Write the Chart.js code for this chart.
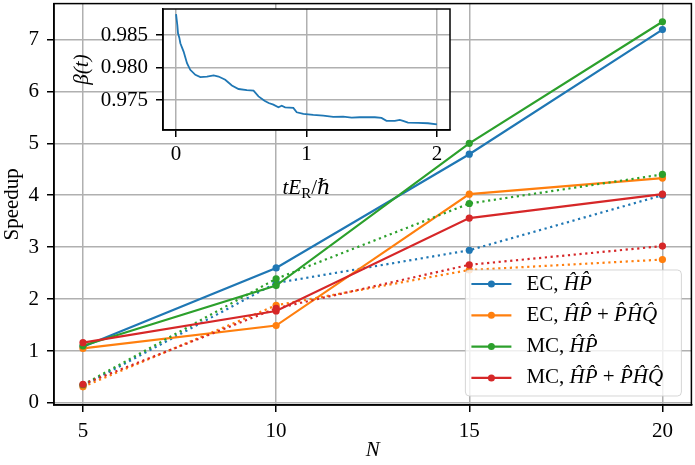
<!DOCTYPE html>
<html>
<head>
<meta charset="utf-8">
<script src="https://cdn.jsdelivr.net/npm/chart.js@4.4.1/dist/chart.umd.min.js"></script>
<style>
  body { margin: 0; background: #fff; }
  #wrap { position: relative; width: 695px; height: 465px; }
  #main { position: absolute; left: 0; top: 0; }
  #inset { position: absolute; left: 70px; top: 0; }
</style>
</head>
<body>
<div id="wrap">
  <canvas id="main" width="695" height="465"></canvas>
  <canvas id="inset" width="390" height="200"></canvas>
</div>
<script>
// main plot data
var N = [5, 10, 15, 20];
var seriesLabels = ['EC, ĤP̂', 'EC, ĤP̂ + P̂ĤQ̂', 'MC, ĤP̂', 'MC, ĤP̂ + P̂ĤQ̂'];
var colors = ['#1f77b4', '#ff7f0e', '#2ca02c', '#d62728'];
// solid lines
var ecHP = [1.08, 2.60, 4.79, 7.19];
var ecHPQ = [1.05, 1.49, 4.02, 4.33];
var mcHP = [1.10, 2.26, 5.00, 7.34];
var mcHPQ = [1.16, 1.77, 3.56, 4.02];
// dotted lines
var ecHPdot = [0.33, 2.31, 2.94, 4.00];
var ecHPQdot = [0.31, 1.88, 2.56, 2.76];
var mcHPdot = [0.35, 2.39, 3.84, 4.40];
var mcHPQdot = [0.36, 1.82, 2.66, 3.02];
var xTicks = [5, 10, 15, 20];
var yTicks = [0, 1, 2, 3, 4, 5, 6, 7];

// inset data
var insetT = [0.000, 0.010, 0.015, 0.025, 0.033, 0.058, 0.084, 0.109, 0.148, 0.186,
  0.237, 0.288, 0.326, 0.377, 0.428, 0.479, 0.543, 0.594, 0.632, 0.678,
  0.710, 0.746, 0.785, 0.810, 0.836, 0.899, 0.925, 0.976, 1.052, 1.128,
  1.205, 1.281, 1.346, 1.409, 1.447, 1.524, 1.575, 1.613, 1.677, 1.715,
  1.740, 1.778, 1.855, 1.931, 2.000];
var insetBeta = [0.98821, 0.98650, 0.98526, 0.98460, 0.98373, 0.98245, 0.98067, 0.97965, 0.97888, 0.97853,
  0.97862, 0.97878, 0.97862, 0.97812, 0.97725, 0.97670, 0.97654, 0.97644, 0.97557, 0.97491,
  0.97455, 0.97430, 0.97389, 0.97414, 0.97389, 0.97379, 0.97312, 0.97287, 0.97272, 0.97261,
  0.97241, 0.97246, 0.97231, 0.97236, 0.97236, 0.97236, 0.97226, 0.97180, 0.97180, 0.97196,
  0.97180, 0.97154, 0.97150, 0.97144, 0.97128];
var insetXTicks = [0, 1, 2];
var insetYTicks = [0.975, 0.980, 0.985];

var SERIF = '"Liberation Serif", "DejaVu Serif", serif';
var FS = 21;

function pts(ys) {
  return N.map(function (n, i) { return { x: n, y: ys[i] }; });
}

// draw "EC, ĤP̂ + P̂ĤQ̂" with math parts in italic
function drawLabel(ctx, label, x, y) {
  var k = label.indexOf(', ');
  var parts = [[label.slice(0, k + 2), false]];
  label.slice(k + 2).split(' + ').forEach(function (p, i) {
    if (i > 0) parts.push([' + ', false]);
    parts.push([p, true]);
  });
  ctx.textBaseline = 'middle';
  ctx.textAlign = 'left';
  ctx.fillStyle = '#000';
  parts.forEach(function (p) {
    ctx.font = (p[1] ? 'italic ' : '') + FS + 'px ' + SERIF;
    ctx.fillText(p[0], x, y);
    x += ctx.measureText(p[0]).width;
  });
}

var framePlugin = {
  id: 'frame',
  beforeDraw: function (chart) {
    var a = chart.chartArea, ctx = chart.ctx;
    ctx.save();
    ctx.fillStyle = '#fff';
    ctx.fillRect(a.left, a.top, a.right - a.left, a.bottom - a.top);
    ctx.restore();
  },
  afterDatasetsDraw: function (chart) {
    var a = chart.chartArea, ctx = chart.ctx;
    ctx.save();
    ctx.strokeStyle = '#000';
    ctx.lineWidth = 1.5;
    ctx.strokeRect(a.left, a.top, a.right - a.left, a.bottom - a.top);
    ctx.restore();
  }
};

var legendPlugin = {
  id: 'mplLegend',
  afterDraw: function (chart) {
    var ctx = chart.ctx, a = chart.chartArea;
    var w = 216, h = 126;
    var x0 = a.right - 10 - w, y0 = a.bottom - 9 - h, r = 4;
    ctx.save();
    ctx.beginPath();
    ctx.moveTo(x0 + r, y0);
    ctx.arcTo(x0 + w, y0, x0 + w, y0 + h, r);
    ctx.arcTo(x0 + w, y0 + h, x0, y0 + h, r);
    ctx.arcTo(x0, y0 + h, x0, y0, r);
    ctx.arcTo(x0, y0, x0 + w, y0, r);
    ctx.closePath();
    ctx.fillStyle = 'rgba(255,255,255,0.8)';
    ctx.fill();
    ctx.strokeStyle = 'rgba(204,204,204,0.8)';
    ctx.lineWidth = 1;
    ctx.stroke();
    seriesLabels.forEach(function (lab, i) {
      var y = y0 + 14 + i * 31.3;
      ctx.strokeStyle = colors[i];
      ctx.lineWidth = 2.2;
      ctx.beginPath();
      ctx.moveTo(x0 + 6, y);
      ctx.lineTo(x0 + 46, y);
      ctx.stroke();
      ctx.fillStyle = colors[i];
      ctx.beginPath();
      ctx.arc(x0 + 26, y, 3.5, 0, Math.PI * 2);
      ctx.fill();
      drawLabel(ctx, lab, x0 + 61, y);
    });
    ctx.restore();
  }
};

var solid = [ecHP, ecHPQ, mcHP, mcHPQ];
var dotted = [ecHPdot, ecHPQdot, mcHPdot, mcHPQdot];
var datasets = [];
solid.forEach(function (s, i) {
  datasets.push({
    label: seriesLabels[i], data: pts(s),
    borderColor: colors[i], backgroundColor: colors[i],
    borderWidth: 2.2, pointRadius: 3.6, pointBorderWidth: 0, pointHoverRadius: 3.6,
    order: 20 - 2 * i
  });
  datasets.push({
    label: seriesLabels[i] + ' (dotted)', data: pts(dotted[i]),
    borderColor: colors[i], backgroundColor: colors[i],
    borderWidth: 2.2, borderDash: [2.2, 3.6], borderCapStyle: 'butt',
    pointRadius: 3.6, pointBorderWidth: 0, pointHoverRadius: 3.6,
    order: 19 - 2 * i
  });
});

function axisCommon() {
  return {
    type: 'linear',
    grid: { color: '#b0b0b0', lineWidth: 1.5, tickColor: '#000', tickLength: 7, tickWidth: 1.5 },
    border: { display: true, color: '#000', width: 1.5 },
    ticks: { color: '#000', font: { family: SERIF, size: FS }, padding: 8, autoSkip: false, maxRotation: 0 }
  };
}

function noPad(s) {
  s.paddingTop = 0; s.paddingBottom = 0; s.paddingLeft = 0; s.paddingRight = 0;
}

var mx = axisCommon();
mx.min = 4.25; mx.max = 20.75;
mx.ticks.padding = 7;
mx.afterBuildTicks = function (s) { s.ticks = xTicks.map(function (v) { return { value: v }; }); };
mx.afterFit = function (s) { s.height = 60; noPad(s); };
mx.title = { display: true, text: 'N', color: '#000', font: { family: SERIF, size: FS, style: 'italic' }, padding: { top: 0, bottom: 2 } };

var my = axisCommon();
my.min = -0.04; my.max = 7.69;
my.afterBuildTicks = function (s) { s.ticks = yTicks.map(function (v) { return { value: v }; }); };
my.afterFit = function (s) { s.width = 54; noPad(s); };
my.title = { display: true, text: 'Speedup', color: '#000', font: { family: SERIF, size: FS }, padding: { top: 0, bottom: 0 } };

new Chart(document.getElementById('main'), {
  type: 'line',
  data: { datasets: datasets },
  options: {
    responsive: false,
    animation: false,
    devicePixelRatio: 1,
    layout: { padding: { left: 0, top: 1, right: 2, bottom: 0 } },
    scales: { x: mx, y: my },
    plugins: { legend: { display: false }, tooltip: { enabled: false } }
  },
  plugins: [framePlugin, legendPlugin]
});

// inset
var ix = axisCommon();
ix.min = -0.1; ix.max = 2.1;
ix.ticks.padding = 5;
ix.afterBuildTicks = function (s) { s.ticks = insetXTicks.map(function (v) { return { value: v }; }); };
ix.afterFit = function (s) { s.height = 70; noPad(s); };

var iy = axisCommon();
iy.min = 0.9704; iy.max = 0.9890;
iy.ticks.callback = function (v) { return v.toFixed(3); };
iy.afterBuildTicks = function (s) { s.ticks = insetYTicks.map(function (v) { return { value: v }; }); };
iy.afterFit = function (s) { s.width = 93; noPad(s); };
iy.title = { display: true, text: 'β(t)', color: '#000', font: { family: SERIF, size: FS, style: 'italic' }, padding: { top: 0, bottom: 0 } };

var insetTitlePlugin = {
  id: 'insetTitle',
  afterDraw: function (chart) {
    var ctx = chart.ctx, a = chart.chartArea;
    var parts = [['tE', 'italic ' + FS + 'px ' + SERIF, 0], ['R', '15px ' + SERIF, 4], ['/', FS + 'px ' + SERIF, 0], ['ℏ', 'italic ' + FS + 'px ' + SERIF, 0]];
    ctx.save();
    ctx.textBaseline = 'alphabetic';
    ctx.textAlign = 'left';
    ctx.fillStyle = '#000';
    var total = 0;
    parts.forEach(function (p) { ctx.font = p[1]; total += ctx.measureText(p[0]).width; });
    var x = (a.left + a.right) / 2 - total / 2, y = 194;
    parts.forEach(function (p) {
      ctx.font = p[1];
      ctx.fillText(p[0], x, y + p[2]);
      x += ctx.measureText(p[0]).width;
    });
    ctx.restore();
  }
};

new Chart(document.getElementById('inset'), {
  type: 'line',
  data: {
    datasets: [{
      label: 'β(t)',
      data: insetT.map(function (t, i) { return { x: t, y: insetBeta[i] }; }),
      borderColor: '#1f77b4', borderWidth: 1.8, pointRadius: 0, tension: 0
    }]
  },
  options: {
    responsive: false,
    animation: false,
    devicePixelRatio: 1,
    layout: { padding: { left: 0, top: 9, right: 10, bottom: 0 } },
    scales: { x: ix, y: iy },
    plugins: { legend: { display: false }, tooltip: { enabled: false } }
  },
  plugins: [framePlugin, insetTitlePlugin]
});
</script>
</body>
</html>
